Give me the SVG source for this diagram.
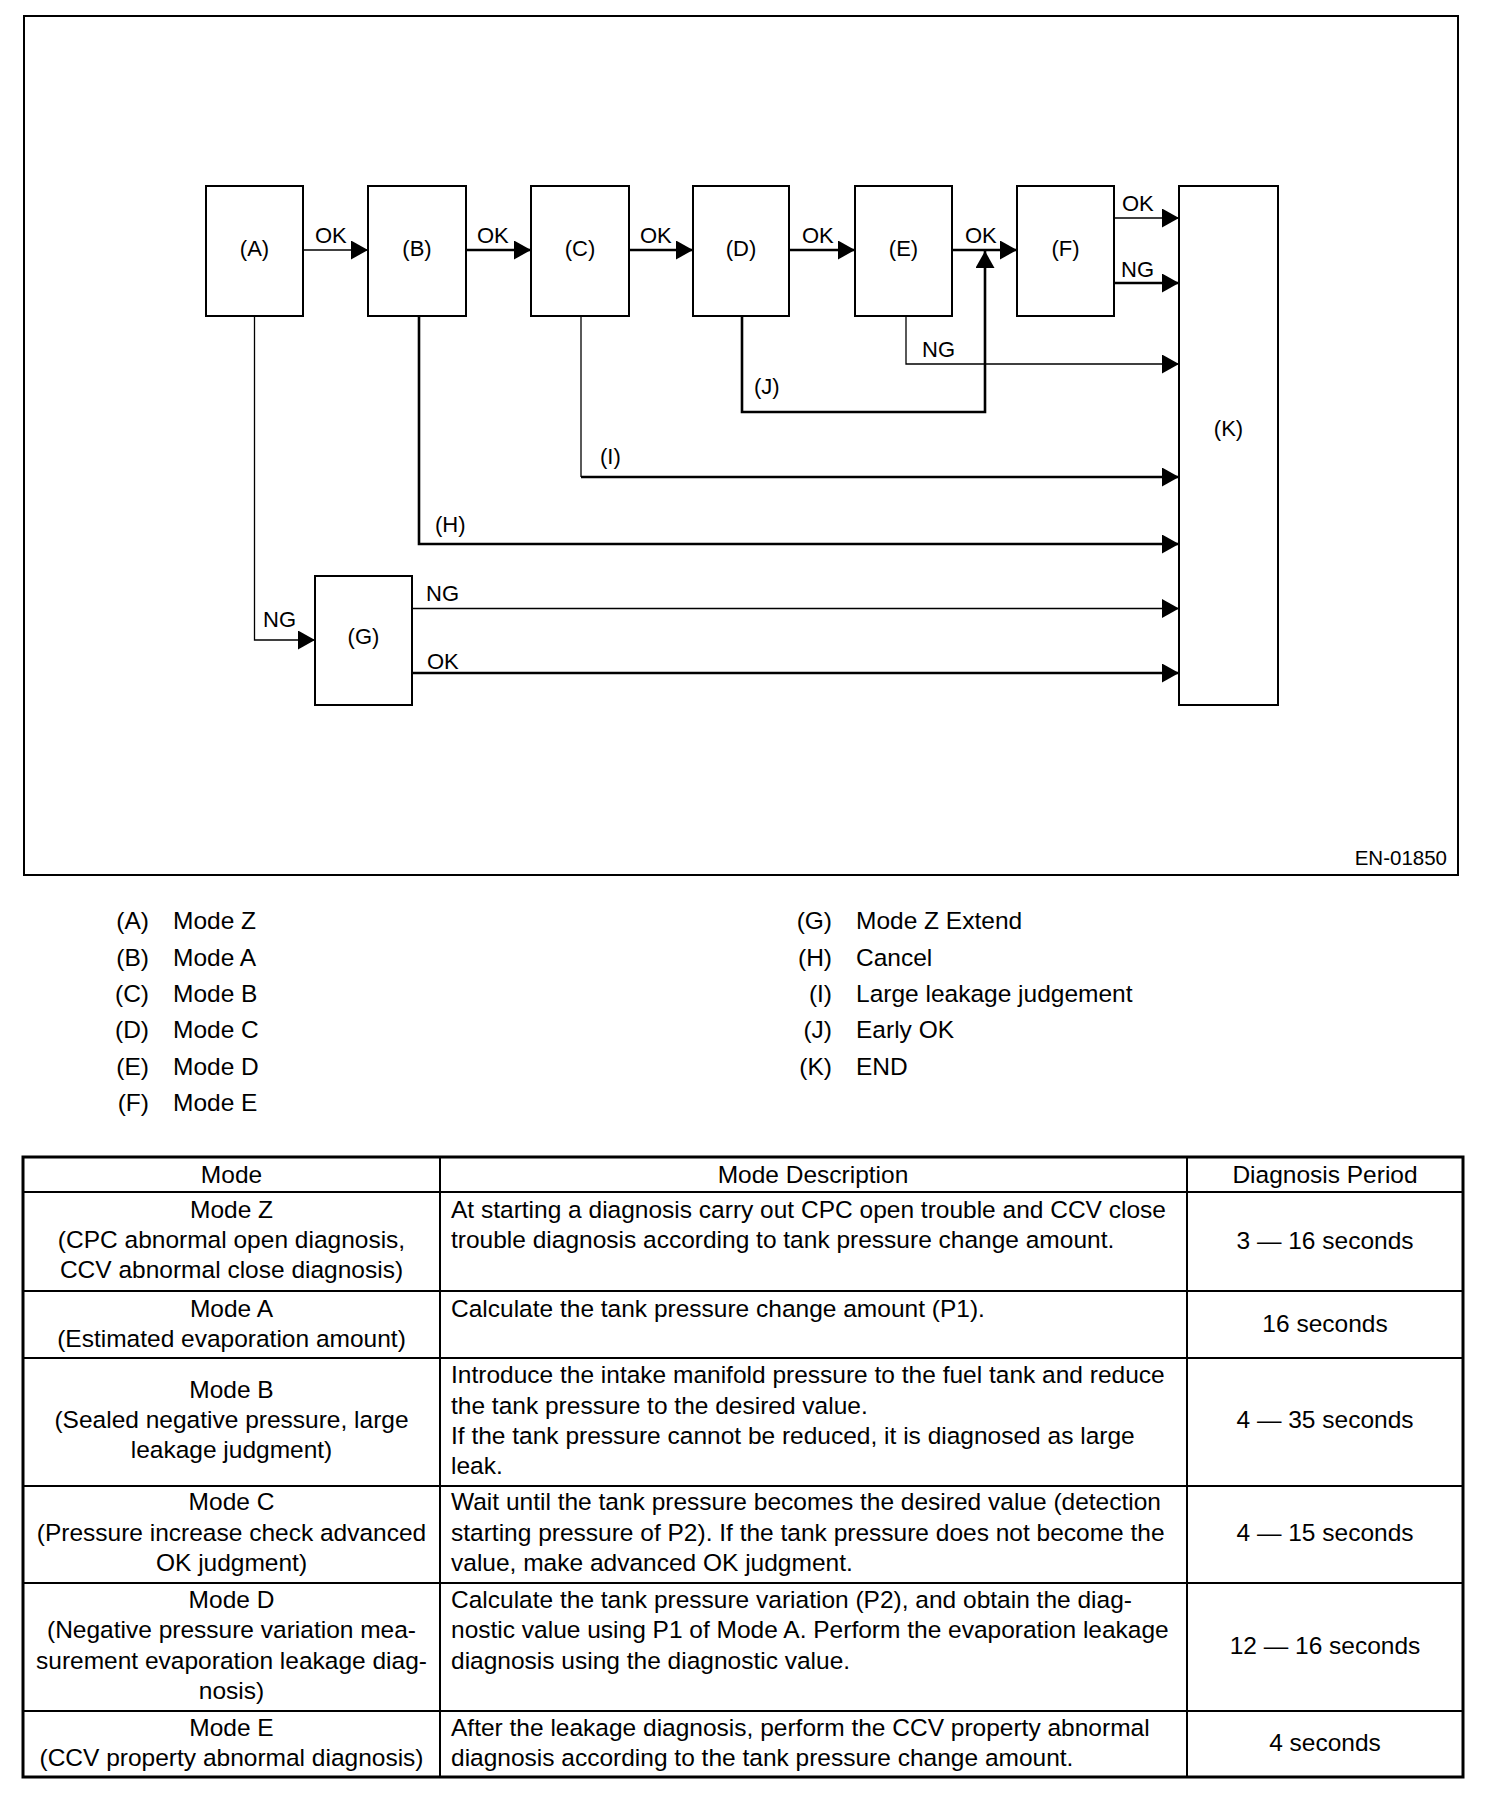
<svg xmlns="http://www.w3.org/2000/svg" width="1504" height="1800" viewBox="0 0 1504 1800">
<style>
.frame{fill:none;stroke:#000;stroke-width:2}
.box{fill:#fff;stroke:#000;stroke-width:2}
.thick{fill:none;stroke:#000;stroke-width:2.6}
.thin{fill:none;stroke:#000;stroke-width:1.3}
.lbl{font-family:"Liberation Sans",Arial,sans-serif;font-size:22px;fill:#000}
.nl{font-family:"Liberation Sans",Arial,sans-serif;font-size:22px;fill:#000;text-anchor:middle}
.leg{font-family:"Liberation Sans",Arial,sans-serif;font-size:24.5px;fill:#000}
.legk{font-family:"Liberation Sans",Arial,sans-serif;font-size:24.5px;fill:#000;text-anchor:end}
.tc{font-family:"Liberation Sans",Arial,sans-serif;font-size:24.5px;fill:#000;text-anchor:middle}
.tl{font-family:"Liberation Sans",Arial,sans-serif;font-size:24.5px;fill:#000}
.tout{fill:none;stroke:#000;stroke-width:3}
.tin{fill:none;stroke:#000;stroke-width:2}
</style>
<defs>
<marker id="ah" markerUnits="userSpaceOnUse" markerWidth="17" markerHeight="19" refX="17" refY="9.5" orient="auto">
<path d="M0,0 L17,9.5 L0,19 z" fill="#000"/>
</marker>
</defs>
<rect width="1504" height="1800" fill="#fff"/>
<rect class="frame" x="24" y="16" width="1434" height="859"/>

<g id="connectors">
<path class="thin" d="M303,250 H368" marker-end="url(#ah)"/>
<path class="thick" d="M466,250 H531" marker-end="url(#ah)"/>
<path class="thick" d="M629,250 H693" marker-end="url(#ah)"/>
<path class="thick" d="M789,250 H855" marker-end="url(#ah)"/>
<path class="thick" d="M952,250 H1017" marker-end="url(#ah)"/>
<path class="thin" d="M1114,218 H1179" marker-end="url(#ah)"/>
<path class="thick" d="M1114,283 H1179" marker-end="url(#ah)"/>
<path class="thin" d="M906,316 V364 H1179" marker-end="url(#ah)"/>
<path class="thick" d="M742,316 V412 H985 V251" marker-end="url(#ah)"/>
<path class="thin" d="M581,316 V477"/>
<path class="thick" d="M581,477 H1179" marker-end="url(#ah)"/>
<path class="thick" d="M419,316 V544 H1179" marker-end="url(#ah)"/>
<path class="thin" d="M254.5,316 V640 H315" marker-end="url(#ah)"/>
<path class="thin" d="M412,608.5 H1179" marker-end="url(#ah)"/>
<path class="thick" d="M412,673 H1179" marker-end="url(#ah)"/>
<text class="lbl" x="315" y="243">OK</text>
<text class="lbl" x="477" y="243">OK</text>
<text class="lbl" x="640" y="243">OK</text>
<text class="lbl" x="802" y="243">OK</text>
<text class="lbl" x="965" y="243">OK</text>
<text class="lbl" x="1122" y="211">OK</text>
<text class="lbl" x="1121" y="277">NG</text>
<text class="lbl" x="922" y="357">NG</text>
<text class="lbl" x="754" y="394">(J)</text>
<text class="lbl" x="600" y="464">(I)</text>
<text class="lbl" x="435" y="532">(H)</text>
<text class="lbl" x="263" y="627">NG</text>
<text class="lbl" x="426" y="601">NG</text>
<text class="lbl" x="427" y="669">OK</text>
</g>

<g id="node-A"><rect class="box" x="206" y="186" width="97" height="130"/><text class="nl" x="254.5" y="256">(A)</text></g>
<g id="node-B"><rect class="box" x="368" y="186" width="98" height="130"/><text class="nl" x="417" y="256">(B)</text></g>
<g id="node-C"><rect class="box" x="531" y="186" width="98" height="130"/><text class="nl" x="580" y="256">(C)</text></g>
<g id="node-D"><rect class="box" x="693" y="186" width="96" height="130"/><text class="nl" x="741" y="256">(D)</text></g>
<g id="node-E"><rect class="box" x="855" y="186" width="97" height="130"/><text class="nl" x="903.5" y="256">(E)</text></g>
<g id="node-F"><rect class="box" x="1017" y="186" width="97" height="130"/><text class="nl" x="1065.5" y="256">(F)</text></g>
<g id="node-G"><rect class="box" x="315" y="576" width="97" height="129"/><text class="nl" x="363.5" y="644">(G)</text></g>
<g id="node-K"><rect class="box" x="1179" y="186" width="99" height="519"/><text class="nl" x="1228.5" y="436">(K)</text></g>

<text class="lbl" x="1447" y="865" text-anchor="end" style="font-size:20.5px">EN-01850</text>

<g id="legend">
<text class="legk" x="149" y="929">(A)</text><text class="leg" x="173" y="929">Mode Z</text>
<text class="legk" x="149" y="965.5">(B)</text><text class="leg" x="173" y="965.5">Mode A</text>
<text class="legk" x="149" y="1002">(C)</text><text class="leg" x="173" y="1002">Mode B</text>
<text class="legk" x="149" y="1038">(D)</text><text class="leg" x="173" y="1038">Mode C</text>
<text class="legk" x="149" y="1074.5">(E)</text><text class="leg" x="173" y="1074.5">Mode D</text>
<text class="legk" x="149" y="1111">(F)</text><text class="leg" x="173" y="1111">Mode E</text>
<text class="legk" x="832" y="929">(G)</text><text class="leg" x="856" y="929">Mode Z Extend</text>
<text class="legk" x="832" y="965.5">(H)</text><text class="leg" x="856" y="965.5">Cancel</text>
<text class="legk" x="832" y="1002">(I)</text><text class="leg" x="856" y="1002">Large leakage judgement</text>
<text class="legk" x="832" y="1038">(J)</text><text class="leg" x="856" y="1038">Early OK</text>
<text class="legk" x="832" y="1074.5">(K)</text><text class="leg" x="856" y="1074.5">END</text>
</g>

<g id="table">
<line class="tin" x1="23" y1="1192" x2="1463" y2="1192"/>
<line class="tin" x1="23" y1="1291" x2="1463" y2="1291"/>
<line class="tin" x1="23" y1="1358" x2="1463" y2="1358"/>
<line class="tin" x1="23" y1="1486" x2="1463" y2="1486"/>
<line class="tin" x1="23" y1="1583" x2="1463" y2="1583"/>
<line class="tin" x1="23" y1="1711" x2="1463" y2="1711"/>
<line class="tin" x1="440" y1="1157" x2="440" y2="1777"/>
<line class="tin" x1="1187" y1="1157" x2="1187" y2="1777"/>
<rect class="tout" x="23" y="1157" width="1440" height="620"/>

<text class="tc" x="231.5" y="1183">Mode</text>
<text class="tc" x="813" y="1183">Mode Description</text>
<text class="tc" x="1325" y="1183">Diagnosis Period</text>

<text class="tc" x="231.5" y="1218">Mode Z</text>
<text class="tc" x="231.5" y="1248">(CPC abnormal open diagnosis,</text>
<text class="tc" x="231.5" y="1278">CCV abnormal close diagnosis)</text>
<text class="tl" x="451" y="1218">At starting a diagnosis carry out CPC open trouble and CCV close</text>
<text class="tl" x="451" y="1248">trouble diagnosis according to tank pressure change amount.</text>
<text class="tc" x="1325" y="1249">3 — 16 seconds</text>

<text class="tc" x="231.5" y="1317">Mode A</text>
<text class="tc" x="231.5" y="1347">(Estimated evaporation amount)</text>
<text class="tl" x="451" y="1317">Calculate the tank pressure change amount (P1).</text>
<text class="tc" x="1325" y="1331.5">16 seconds</text>

<text class="tc" x="231.5" y="1398">Mode B</text>
<text class="tc" x="231.5" y="1428">(Sealed negative pressure, large</text>
<text class="tc" x="231.5" y="1458">leakage judgment)</text>
<text class="tl" x="451" y="1383">Introduce the intake manifold pressure to the fuel tank and reduce</text>
<text class="tl" x="451" y="1413.5">the tank pressure to the desired value.</text>
<text class="tl" x="451" y="1444">If the tank pressure cannot be reduced, it is diagnosed as large</text>
<text class="tl" x="451" y="1474">leak.</text>
<text class="tc" x="1325" y="1428">4 — 35 seconds</text>

<text class="tc" x="231.5" y="1510">Mode C</text>
<text class="tc" x="231.5" y="1541">(Pressure increase check advanced</text>
<text class="tc" x="231.5" y="1571">OK judgment)</text>
<text class="tl" x="451" y="1510">Wait until the tank pressure becomes the desired value (detection</text>
<text class="tl" x="451" y="1541">starting pressure of P2). If the tank pressure does not become the</text>
<text class="tl" x="451" y="1571">value, make advanced OK judgment.</text>
<text class="tc" x="1325" y="1541">4 — 15 seconds</text>

<text class="tc" x="231.5" y="1608">Mode D</text>
<text class="tc" x="231.5" y="1638">(Negative pressure variation mea-</text>
<text class="tc" x="231.5" y="1668.5">surement evaporation leakage diag-</text>
<text class="tc" x="231.5" y="1699">nosis)</text>
<text class="tl" x="451" y="1608">Calculate the tank pressure variation (P2), and obtain the diag-</text>
<text class="tl" x="451" y="1638">nostic value using P1 of Mode A. Perform the evaporation leakage</text>
<text class="tl" x="451" y="1668.5">diagnosis using the diagnostic value.</text>
<text class="tc" x="1325" y="1654">12 — 16 seconds</text>

<text class="tc" x="231.5" y="1736">Mode E</text>
<text class="tc" x="231.5" y="1766">(CCV property abnormal diagnosis)</text>
<text class="tl" x="451" y="1736">After the leakage diagnosis, perform the CCV property abnormal</text>
<text class="tl" x="451" y="1766">diagnosis according to the tank pressure change amount.</text>
<text class="tc" x="1325" y="1751">4 seconds</text>
</g>
</svg>
